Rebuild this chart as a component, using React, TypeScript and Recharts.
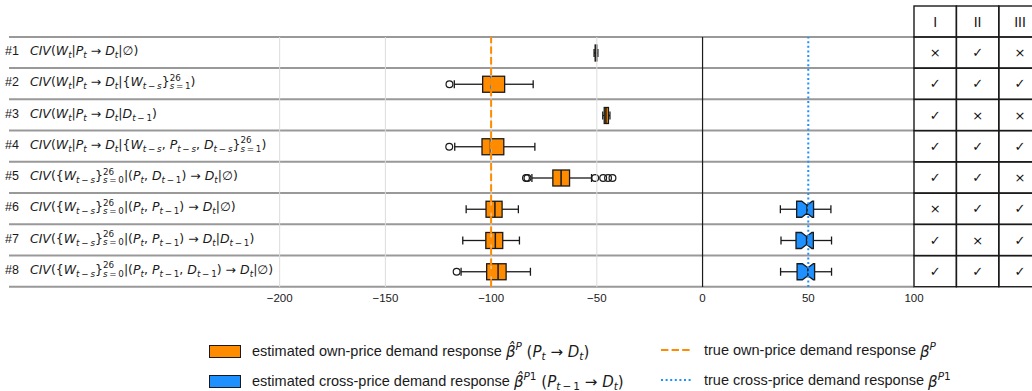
import React from 'react';
import { ComposedChart, Bar, XAxis, YAxis, ReferenceLine, Legend } from 'recharts';

// rows of the experiment table
const rowIds = ['#1', '#2', '#3', '#4', '#5', '#6', '#7', '#8'];
const rowFormulas = [
  'CIV(W_t|P_t → D_t|∅)',
  'CIV(W_t|P_t → D_t|\\{W_{t−s}\\}^{26}_{s=1})',
  'CIV(W_t|P_t → D_t|D_{t−1})',
  'CIV(W_t|P_t → D_t|\\{W_{t−s}, P_{t−s}, D_{t−s}\\}^{26}_{s=1})',
  'CIV(\\{W_{t−s}\\}^{26}_{s=0}|(P_t, D_{t−1}) → D_t|∅)',
  'CIV(\\{W_{t−s}\\}^{26}_{s=0}|(P_t, P_{t−1}) → D_t|∅)',
  'CIV(\\{W_{t−s}\\}^{26}_{s=0}|(P_t, P_{t−1}) → D_t|D_{t−1})',
  'CIV(\\{W_{t−s}\\}^{26}_{s=0}|(P_t, P_{t−1}, D_{t−1}) → D_t|∅)',
];

// own-price estimates (box stats)
const ownLow = [-51.3, -117.4, -47.2, -117.2, -80.7, -111.8, -113.4, -114.2];
const ownQ1 = [-50.8, -104.0, -46.5, -104.3, -70.8, -102.4, -102.5, -102.1];
const ownMed = [-50.4, -100.1, -45.7, -100.3, -66.9, -98.2, -98.0, -96.7];
const ownQ3 = [-50.0, -93.6, -44.5, -94.0, -62.9, -94.8, -94.5, -92.9];
const ownHigh = [-49.5, -80.1, -43.8, -79.3, -52.5, -87.1, -86.6, -81.4];
const ownOutliers: number[][] = [
  [], [-119.7], [], [-119.8],
  [-83.5, -82.8, -50.8, -47.0, -44.7, -42.6],
  [], [], [-116.3],
];

// cross-price estimates (only rows #6 - #8)
const crossLow = [null, null, null, null, null, 36.8, 37.1, 36.9];
const crossQ1 = [null, null, null, null, null, 44.5, 44.2, 44.7];
const crossNotchLo = [null, null, null, null, null, 46.9, 46.7, 47.2];
const crossMed = [null, null, null, null, null, 49.4, 49.2, 49.8];
const crossNotchHi = [null, null, null, null, null, 51.9, 51.7, 52.4];
const crossQ3 = [null, null, null, null, null, 52.5, 52.4, 53.0];
const crossHigh = [null, null, null, null, null, 60.7, 61.0, 61.0];

const trueOwn = -100;
const trueCross = 50;
const gridValues = [-200, -150, -100, -50];
const xTicks = [-200, -150, -100, -50, 0, 50, 100];

// assumption table on the right
const tableHeaders = ['I', 'II', 'III'];
const tableColI = ['×', '✓', '✓', '✓', '✓', '×', '✓', '✓'];
const tableColII = ['✓', '✓', '×', '✓', '✓', '✓', '×', '✓'];
const tableColIII = ['×', '✓', '×', '✓', '×', '✓', '✓', '✓'];

const boxLegendText = ['estimated own-price demand response', 'estimated cross-price demand response'];
const boxLegendMath = ['β̂^P (P_t → D_t)', 'β̂^{P1} (P_{t−1} → D_t)'];
const lineLegendText = ['true own-price demand response', 'true cross-price demand response'];
const lineLegendMath = ['β^P', 'β^{P1}'];

const ORANGE = '#ff8c00';
const BLUE = '#1e90ff';
const INK = '#1a1a1a';
const COL_W = 42.4;
const SANS = '"Liberation Sans", Arial, sans-serif';
const MATH = '"DejaVu Sans", sans-serif';

const data = rowIds.map((row, i) => ({
  row,
  formula: rowFormulas[i],
  own: { low: ownLow[i], q1: ownQ1[i], med: ownMed[i], q3: ownQ3[i], high: ownHigh[i], out: ownOutliers[i] },
  cross:
    crossLow[i] == null
      ? null
      : {
          low: crossLow[i] as number, q1: crossQ1[i] as number, nlo: crossNotchLo[i] as number,
          med: crossMed[i] as number, nhi: crossNotchHi[i] as number, q3: crossQ3[i] as number,
          high: crossHigh[i] as number,
        },
  marks: [tableColI[i], tableColII[i], tableColIII[i]],
}));

// tiny tex-ish renderer: letters italic, _ / ^ scripts, \{ literal braces
const isItalic = (c: string) => /[A-Za-zα-ωΑ-Ω\u0302]/.test(c);

function mathNodes(src: string, script = false): React.ReactNode[] {
  const out: React.ReactNode[] = [];
  let i = 0;
  let run = '';
  let runIt = false;
  const flush = () => {
    if (run) out.push(<span key={out.length} style={{ fontStyle: runIt ? 'italic' : 'normal' }}>{run}</span>);
    run = '';
  };
  const readGroup = () => {
    if (src[i] === '{') {
      let depth = 1;
      let j = i + 1;
      while (depth > 0 && j < src.length) {
        if (src[j] === '\\') { j += 2; continue; }
        if (src[j] === '{') depth++;
        else if (src[j] === '}') depth--;
        j++;
      }
      const g = src.slice(i + 1, j - 1);
      i = j;
      return g;
    }
    const c = src[i];
    i++;
    return c;
  };
  while (i < src.length) {
    const c = src[i];
    if (c === '^' || c === '_') {
      flush();
      i++;
      let sup: string | null = null;
      let sub: string | null = null;
      if (c === '^') sup = readGroup(); else sub = readGroup();
      if ((src[i] === '^' && sup === null) || (src[i] === '_' && sub === null)) {
        const k = src[i];
        i++;
        if (k === '^') sup = readGroup(); else sub = readGroup();
      }
      if (sup !== null && sub !== null) {
        out.push(
          <span key={out.length} style={{ display: 'inline-flex', flexDirection: 'column', fontSize: '70%', lineHeight: 0.95, verticalAlign: '0.62em' }}>
            <span>{mathNodes(sup, true)}</span>
            <span>{mathNodes(sub, true)}</span>
          </span>
        );
      } else if (sup !== null) {
        out.push(<span key={out.length} style={{ fontSize: '70%', verticalAlign: '0.62em' }}>{mathNodes(sup, true)}</span>);
      } else if (sub !== null) {
        out.push(<span key={out.length} style={{ fontSize: '70%', verticalAlign: '-0.35em' }}>{mathNodes(sub, true)}</span>);
      }
      continue;
    }
    let ch = c;
    if (c === '\\') { ch = src[i + 1]; i += 2; } else i++;
    if (script && (ch === '−' || ch === '=')) {
      // operators inside scripts get a little air, like mathtext does
      flush();
      out.push(<span key={out.length} style={{ margin: '0 0.2em' }}>{ch}</span>);
      continue;
    }
    const it = isItalic(ch);
    if (run && it !== runIt) flush();
    runIt = it;
    run += ch;
  }
  flush();
  return out;
}

// row separators, row labels and the assumption table, drawn from each row band
const RowFrame = (props: any) => {
  const { x, y, width, height, index, payload } = props;
  const right = x + width;
  const cell = (top: number, c: number, txt: string, size: number, font: string) => (
    <g key={`${top}-${c}`}>
      <rect x={right + c * COL_W} y={top} width={COL_W} height={height} fill="none" stroke={INK} strokeWidth={1.4} />
      <text x={right + (c + 0.5) * COL_W} y={top + height / 2} textAnchor="middle" dominantBaseline="central"
        fontFamily={font} fontSize={size} fill="#111">{txt}</text>
    </g>
  );
  return (
    <g>
      {index === 0 && <line x1={x} x2={right} y1={y} y2={y} stroke="#999" strokeWidth={2} />}
      <line x1={x} x2={right} y1={y + height} y2={y + height} stroke="#999" strokeWidth={2} />
      <foreignObject x={x - 4} y={y + height / 2 - 21.5} width={330} height={40}>
        <div style={{ fontFamily: MATH, fontSize: 12.5, lineHeight: '40px', color: INK, whiteSpace: 'nowrap' }}>
          <span style={{ fontFamily: SANS, marginRight: 11 }}>{payload.row}</span>
          {mathNodes(payload.formula)}
        </div>
      </foreignObject>
      {index === 0 && tableHeaders.map((h, c) => cell(y - height, c, h, 14, SANS))}
      {payload.marks.map((m: string, c: number) => cell(y, c, m, 13, MATH))}
    </g>
  );
};

const OwnBox = (props: any) => {
  const { x, y, width, height, payload } = props;
  const s = payload.own;
  const px = (v: number) => x + ((v - s.low) / (s.high - s.low)) * width;
  const cy = y + height / 2;
  const cap = height / 4;
  return (
    <g stroke={INK} strokeWidth={1.3}>
      <line x1={px(s.low)} x2={px(s.q1)} y1={cy} y2={cy} />
      <line x1={px(s.q3)} x2={px(s.high)} y1={cy} y2={cy} />
      <line x1={px(s.low)} x2={px(s.low)} y1={cy - cap} y2={cy + cap} />
      <line x1={px(s.high)} x2={px(s.high)} y1={cy - cap} y2={cy + cap} />
      <rect x={px(s.q1)} y={y} width={px(s.q3) - px(s.q1)} height={height} fill={ORANGE} />
      <line x1={px(s.med)} x2={px(s.med)} y1={y} y2={y + height} strokeWidth={1.5} />
      {s.out.map((v: number, k: number) => (
        <circle key={k} cx={px(v)} cy={cy} r={3.4} fill="none" strokeWidth={1.2} />
      ))}
    </g>
  );
};

const CrossBox = (props: any) => {
  const { x, y, width, height, payload } = props;
  const s = payload.cross;
  if (!s) return <g />;
  const px = (v: number) => x + ((v - s.low) / (s.high - s.low)) * width;
  const cy = y + height / 2;
  const cap = height / 4;
  const b = y + height;
  const ind = height / 4;
  const path = [
    `M${px(s.q1)},${y}`, `L${px(s.nlo)},${y}`, `L${px(s.med)},${y + ind}`, `L${px(s.nhi)},${y}`,
    `L${px(s.q3)},${y}`, `L${px(s.q3)},${b}`, `L${px(s.nhi)},${b}`, `L${px(s.med)},${b - ind}`,
    `L${px(s.nlo)},${b}`, `L${px(s.q1)},${b}`, 'Z',
  ].join(' ');
  return (
    <g stroke={INK} strokeWidth={1.3}>
      <line x1={px(s.low)} x2={px(s.q1)} y1={cy} y2={cy} />
      <line x1={px(s.q3)} x2={px(s.high)} y1={cy} y2={cy} />
      <line x1={px(s.low)} x2={px(s.low)} y1={cy - cap} y2={cy + cap} />
      <line x1={px(s.high)} x2={px(s.high)} y1={cy - cap} y2={cy + cap} />
      <path d={path} fill={BLUE} />
      <line x1={px(s.med)} x2={px(s.med)} y1={y + ind} y2={b - ind} strokeWidth={1.5} />
    </g>
  );
};

const LegendContent = () => (
  <div style={{ position: 'relative', width: 820, height: 60, fontFamily: SANS, fontSize: 14.5, color: INK }}>
    {boxLegendText.map((t, i) => (
      <div key={t} style={{ position: 'absolute', left: 0, top: i * 30, height: 26, display: 'flex', alignItems: 'center', whiteSpace: 'nowrap' }}>
        <span style={{ display: 'inline-block', width: 30, height: 11, background: i === 0 ? ORANGE : BLUE, border: `1px solid ${INK}`, marginRight: 11 }} />
        <span>{t}&nbsp;</span>
        <span style={{ fontFamily: MATH, fontSize: 15 }}>{mathNodes(boxLegendMath[i])}</span>
      </div>
    ))}
    {lineLegendText.map((t, i) => (
      <div key={t} style={{ position: 'absolute', left: 452, top: i * 30 - 1, height: 26, display: 'flex', alignItems: 'center', whiteSpace: 'nowrap' }}>
        <svg width={30} height={4} style={{ marginRight: 13 }}>
          <line x1={0} x2={30} y1={2} y2={2} stroke={i === 0 ? ORANGE : BLUE} strokeWidth={2}
            strokeDasharray={i === 0 ? '7.4 3.2' : '2 2.6'} />
        </svg>
        <span>{t}&nbsp;</span>
        <span style={{ fontFamily: MATH, fontSize: 15 }}>{mathNodes(lineLegendMath[i])}</span>
      </div>
    ))}
  </div>
);

export default function App() {
  return (
    <div>
      <style>{'body{margin:0}'}</style>
      <ComposedChart
        width={1032}
        height={391}
        data={data}
        layout="vertical"
        barCategoryGap={0}
        margin={{ top: 37, right: 118, bottom: 74, left: 9 }}
      >
        <XAxis
          type="number"
          domain={[-328, 100]}
          ticks={xTicks}
          axisLine={false}
          tickLine={false}
          tickMargin={1}
          tickFormatter={(v: number) => String(v).replace('-', '\u2212')}
          tick={{ fontFamily: SANS, fontSize: 11.5, fill: INK }}
        />
        <YAxis yAxisId="band" type="category" dataKey="row" hide />
        <YAxis yAxisId="own" type="category" dataKey="row" hide />
        <YAxis yAxisId="cross" type="category" dataKey="row" hide />
        <Bar yAxisId="band" dataKey={() => 0} background={<RowFrame />} shape={() => <g />} isAnimationActive={false} />
        {gridValues.map((v) => (
          <ReferenceLine key={v} yAxisId="band" x={v} stroke="#dcdcdc" strokeWidth={1} />
        ))}
        <ReferenceLine yAxisId="band" x={0} stroke={INK} strokeWidth={1.2} />
        <ReferenceLine yAxisId="band" x={trueOwn} stroke={ORANGE} strokeWidth={2} strokeDasharray="7.4 3.2" />
        <ReferenceLine yAxisId="band" x={trueCross} stroke={BLUE} strokeWidth={2} strokeDasharray="2 2.6" />
        <Bar yAxisId="own" barSize={16} dataKey={(d: any) => [d.own.low, d.own.high]} shape={<OwnBox />} isAnimationActive={false} />
        <Bar yAxisId="cross" barSize={16} dataKey={(d: any) => (d.cross ? [d.cross.low, d.cross.high] : null)} shape={<CrossBox />} isAnimationActive={false} />
        <Legend verticalAlign="middle" layout="horizontal" wrapperStyle={{ top: 338, left: 209, width: 820, bottom: 'auto' }} content={<LegendContent />} />
      </ComposedChart>
    </div>
  );
}
